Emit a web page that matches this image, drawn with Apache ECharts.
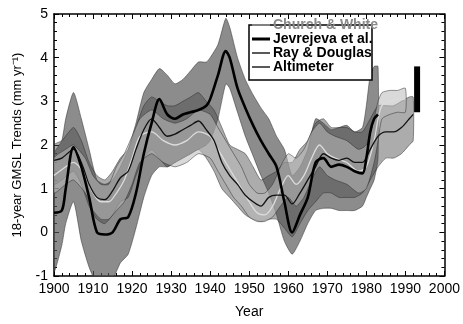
<!DOCTYPE html>
<html><head><meta charset="utf-8">
<script src="https://cdn.jsdelivr.net/npm/echarts@6/dist/echarts.min.js"></script>
<style>html,body{margin:0;padding:0;background:#fff}#c{width:463px;height:324px}</style>
</head><body><div id="c"></div>
<script>
// Jevrejeva et al.
var J_YEARS = [1900,1902,1903,1905,1907,1909,1911,1913,1915,1917,1919,1921,1923,1925,1927,1929,1931,1933,1935,1937,1939,1940,1942,1944,1945,1947,1949,1951,1953,1955,1957,1959,1961,1963,1965,1967,1969,1971,1973,1975,1977,1979,1980,1981,1982,1983];
var J_MID = [0.45,0.5,1.0,1.95,1.5,0.8,0.0,-0.05,0.0,0.3,0.35,0.9,1.8,2.5,3.05,2.7,2.6,2.7,2.75,2.8,2.9,3.05,3.6,4.15,4.0,3.3,2.85,2.45,2.1,1.8,1.5,0.7,0.0,0.4,0.8,1.6,1.7,1.5,1.55,1.5,1.4,1.35,1.7,2.3,2.6,2.7];
var J_LO = [-0.9,-0.3,0.2,0.7,-0.2,-0.8,-1.2,-1.4,-1.1,-0.7,-0.5,0.1,0.8,1.3,1.5,1.5,1.6,1.7,1.8,1.9,2.0,2.1,2.6,3.4,3.3,2.75,2.2,1.75,1.3,0.9,0.4,-0.2,-0.5,-0.2,0.2,0.5,0.55,0.55,0.5,0.5,0.5,0.6,0.8,1.0,1.2,1.7];
var J_HI = [1.8,2.1,2.6,3.2,2.6,1.9,1.2,1.1,1.2,1.5,1.9,2.5,3.2,3.5,3.75,3.6,3.4,3.5,3.7,3.9,3.9,4.0,4.3,4.9,4.7,4.0,3.5,3.15,2.85,2.6,2.2,1.9,1.3,1.5,1.9,2.6,2.5,2.35,2.4,2.45,2.3,2.4,2.9,3.6,3.8,3.8];
// Ray & Douglas
var RD_YEARS = [1900,1902,1905,1907,1909,1911,1913,1915,1917,1919,1921,1923,1925,1927,1929,1931,1933,1935,1937,1939,1941,1943,1945,1947,1949,1951,1953,1955,1957,1959,1961,1963,1965,1967,1969,1971,1973,1975,1977,1979,1981,1983,1985,1987,1989,1991,1992];
var RD_MID = [1.65,1.7,1.9,1.6,1.1,0.8,0.75,0.95,1.25,1.4,1.9,2.35,2.6,2.4,2.2,2.25,2.35,2.45,2.55,2.35,2.1,1.6,1.3,1.1,0.85,0.7,0.6,0.8,0.85,0.85,0.65,0.9,1.2,1.5,1.8,1.7,1.65,1.7,1.6,1.6,1.9,2.2,2.3,2.3,2.4,2.6,2.7];
var RD_LO = [1.1,1.2,1.4,1.1,0.6,0.3,0.2,0.4,0.7,0.8,1.3,1.7,1.9,1.7,1.5,1.6,1.7,1.8,1.9,1.7,1.4,1.0,0.8,0.6,0.4,0.3,0.25,0.3,0.3,0.1,-0.1,0.2,0.5,0.7,0.9,0.9,0.8,0.8,0.8,0.9,1.2,1.5,1.7,1.7,1.8,2.0,2.1];
var RD_HI = [2.0,2.1,2.4,2.1,1.6,1.3,1.2,1.4,1.7,1.9,2.4,2.9,3.1,3.0,2.9,2.9,3.0,3.1,3.2,3.0,2.8,2.4,2.0,1.9,1.8,1.5,1.2,1.3,1.4,1.6,1.6,1.9,2.1,2.5,2.6,2.4,2.4,2.4,2.3,2.3,2.6,2.9,2.9,2.9,3.0,3.1,3.1];
// Church & White
var CW_YEARS = [1900,1903,1905,1908,1910,1912,1914,1916,1918,1920,1922,1925,1928,1931,1934,1937,1940,1942,1944,1946,1948,1950,1952,1954,1956,1958,1960,1962,1964,1966,1968,1970,1972,1975,1978,1980,1982,1983,1984,1986,1988,1990];
var CW_MID = [1.3,1.5,1.6,1.3,0.9,0.7,0.7,0.9,1.2,1.7,2.2,2.3,2.1,2.0,2.1,2.3,2.2,1.9,1.6,1.3,1.0,0.7,0.45,0.4,0.6,1.0,1.3,1.1,1.3,1.7,2.0,1.8,1.7,1.6,1.4,1.5,2.1,2.6,2.9,3.0,3.05,3.05];
var CW_LO = [0.9,1.1,1.2,0.9,0.5,0.3,0.3,0.5,0.7,1.1,1.6,1.8,1.6,1.5,1.6,1.8,1.7,1.4,1.1,0.8,0.6,0.35,0.25,0.25,0.35,0.6,0.8,0.6,0.8,1.2,1.5,1.3,1.2,1.1,0.9,1.0,1.6,2.1,2.6,2.7,2.75,2.75];
var CW_HI = [1.7,1.9,2.0,1.7,1.3,1.1,1.1,1.5,1.8,2.2,2.6,2.8,2.6,2.5,2.6,2.8,2.7,2.4,2.1,1.8,1.5,1.1,0.9,0.9,1.1,1.5,1.8,1.7,1.9,2.3,2.5,2.3,2.2,2.1,1.9,2.0,2.6,3.0,3.2,3.25,3.25,3.3];
// Altimeter
var ALT_YEAR = 1993;
var ALT_RANGE = [2.75, 3.8];
var X_TICKS = [1900,1910,1920,1930,1940,1950,1960,1970,1980,1990,2000];
var Y_TICKS = [-1,0,1,2,3,4,5];

function pairs(xs, ys){ return xs.map(function(x,i){ return [x, ys[i]]; }); }
function band(name, xs, lo, hi, fill){
  return {
    type:'custom', name:name, clip:true, silent:true, z:1,
    data:[[xs[0], lo[0]]],
    renderItem:function(params, api){
      var pts = [];
      for (var i=0;i<xs.length;i++) pts.push(api.coord([xs[i], hi[i]]));
      for (var k=xs.length-1;k>=0;k--) pts.push(api.coord([xs[k], lo[k]]));
      return {type:'polygon', shape:{points:pts, smooth:0.2}, style:{fill:fill, stroke:'rgba(40,40,40,0.7)', lineWidth:0.7}};
    }
  };
}
function line(name, xs, ys, color, w){
  return {type:'line', name:name, data:pairs(xs, ys), showSymbol:false, symbol:'none', smooth:0.3, clip:true, z:3,
    lineStyle:{color:color, width:w}, silent:true};
}
var FONT = 'Liberation Sans, Arial, sans-serif';
var chart = echarts.init(document.getElementById('c'));
var axisLabel = {color:'#000', fontSize:14, fontFamily:FONT, formatter:function(v){ return String(v); }};
chart.setOption({
  animation:false,
  backgroundColor:'#fff',
  grid:{left:54, right:16, top:14, bottom:46},
  xAxis:[{
    type:'value', min:X_TICKS[0], max:X_TICKS[X_TICKS.length-1], interval:10,
    name:'Year', nameLocation:'middle', nameGap:29, nameTextStyle:{color:'#000', fontSize:14, fontFamily:FONT},
    axisLine:{onZero:false, lineStyle:{color:'#000', width:1.5}}, axisTick:{inside:true, length:5, lineStyle:{color:'#000'}},
    minorTick:{show:true, splitNumber:5, length:3, lineStyle:{color:'#000'}},
    splitLine:{show:false}, axisLabel:Object.assign({margin:6}, axisLabel)
  },{
    type:'value', position:'top', min:1900, max:2000, interval:10,
    axisLine:{onZero:false, lineStyle:{color:'#000', width:1.5}}, axisTick:{inside:true, length:5, lineStyle:{color:'#000'}},
    minorTick:{show:true, splitNumber:5, length:3, lineStyle:{color:'#000'}},
    splitLine:{show:false}, axisLabel:{show:false}
  }],
  yAxis:[{
    type:'value', min:Y_TICKS[0], max:Y_TICKS[Y_TICKS.length-1], interval:1,
    name:'18-year GMSL Trends (mm yr\u207B\u00B9)', nameLocation:'middle', nameGap:30, nameRotate:90,
    nameTextStyle:{color:'#000', fontSize:13, fontFamily:FONT},
    axisLine:{onZero:false, lineStyle:{color:'#000', width:1.5}}, axisTick:{inside:true, length:5, lineStyle:{color:'#000'}},
    minorTick:{show:true, splitNumber:5, length:3, lineStyle:{color:'#000'}},
    splitLine:{show:false}, axisLabel:Object.assign({margin:6}, axisLabel)
  },{
    type:'value', position:'right', min:-1, max:5, interval:1,
    axisLine:{onZero:false, lineStyle:{color:'#000', width:1.5}}, axisTick:{inside:true, length:5, lineStyle:{color:'#000'}},
    minorTick:{show:true, splitNumber:5, length:3, lineStyle:{color:'#000'}},
    splitLine:{show:false}, axisLabel:{show:false}
  }],
  series:[
    band('J band', J_YEARS, J_LO, J_HI, 'rgba(85,85,85,0.68)'),
    band('RD band', RD_YEARS, RD_LO, RD_HI, 'rgba(70,70,70,0.45)'),
    band('CW band', CW_YEARS, CW_LO, CW_HI, 'rgba(185,185,185,0.55)'),
    line('Church & White', CW_YEARS, CW_MID, '#dcdcdc', 1.3),
    line('Ray & Douglas', RD_YEARS, RD_MID, '#111', 1.3),
    line('Jevrejeva et al.', J_YEARS, J_MID, '#000', 2.6),
    {type:'line', name:'Altimeter', data:[[ALT_YEAR, ALT_RANGE[0]],[ALT_YEAR, ALT_RANGE[1]]], symbol:'none', z:4,
      lineStyle:{color:'#000', width:6, cap:'butt'}, silent:true}
  ],
  graphic:[
    {type:'rect', z:10, shape:{x:249, y:25, width:123, height:55}, style:{fill:'#fff', stroke:'#000', lineWidth:1.5}},
    {type:'line', z:11, shape:{x1:252, y1:25, x2:270, y2:25}, style:{stroke:'#999', lineWidth:1.5}},
    {type:'line', z:11, shape:{x1:252, y1:39, x2:270, y2:39}, style:{stroke:'#000', lineWidth:3}},
    {type:'line', z:11, shape:{x1:252, y1:53, x2:270, y2:53}, style:{stroke:'#000', lineWidth:1.3}},
    {type:'line', z:11, shape:{x1:252, y1:67, x2:270, y2:67}, style:{stroke:'#000', lineWidth:1.3}},
    {type:'text', z:11, x:273, y:25, style:{text:'Church & White', fill:'#8a8a8a', font:'bold 14px '+FONT, textVerticalAlign:'middle'}},
    {type:'text', z:11, x:273, y:39, style:{text:'Jevrejeva et al.', fill:'#000', font:'bold 14px '+FONT, textVerticalAlign:'middle'}},
    {type:'text', z:11, x:273, y:53, style:{text:'Ray & Douglas', fill:'#000', font:'bold 14px '+FONT, textVerticalAlign:'middle'}},
    {type:'text', z:11, x:273, y:67, style:{text:'Altimeter', fill:'#000', font:'bold 14px '+FONT, textVerticalAlign:'middle'}}
  ]
});
</script></body></html>
